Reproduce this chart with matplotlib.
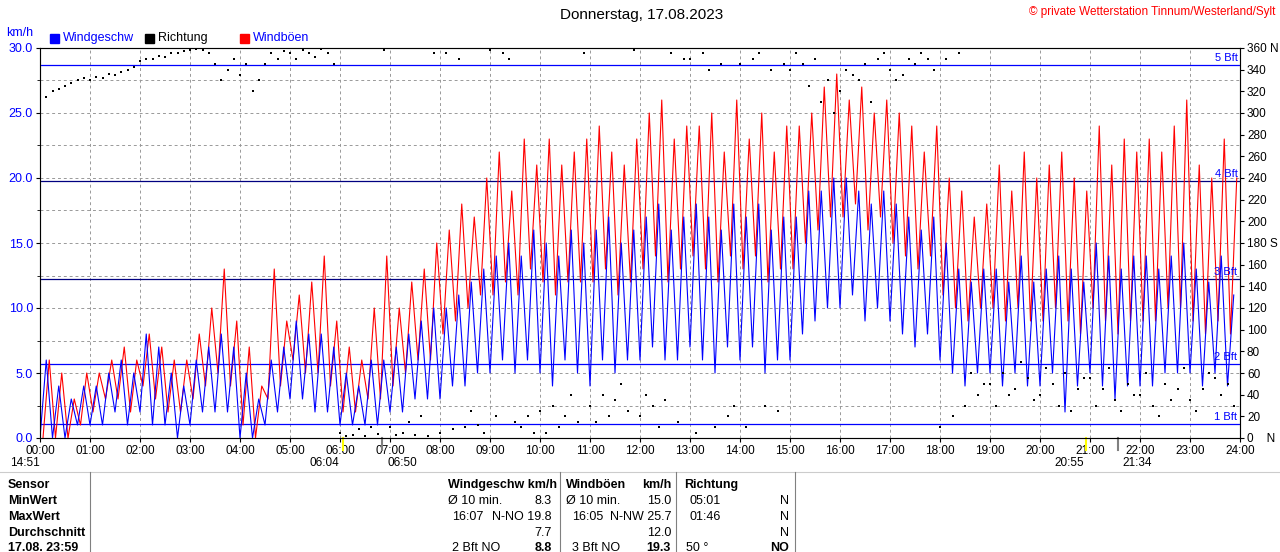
import numpy as np
import matplotlib
matplotlib.use("Agg")
import matplotlib.pyplot as plt

plt.rcParams['font.family'] = ['Liberation Sans Narrow', 'Liberation Sans', 'DejaVu Sans']

# --- DATA (15-min readings: low / high extremes per slot) ---
speed_hi = [6,4,3,4, 4,5,6,5, 8,7,5,4, 6,7,8,7, 5,3,6,7, 9,8,8,7, 5,4,6,6, 7,8,9,10,
            10,11,12,13, 14,15,14,16, 15,14,16,15, 16,17,15,16, 17,18,16,17, 18,17,16,18,
            17,18,16,17, 17,19,19,20, 20,19,18,19, 18,17,16,17, 15,13,12,13, 13,12,14,12,
            13,14,13,12, 15,14,13,14, 14,13,14,15, 13,12,14,11]
speed_lo = [0,0,0,1, 1,1,2,1, 2,1,1,0, 1,2,2,2, 0,0,1,2, 3,3,2,2, 1,1,1,1, 2,2,3,3,
            3,4,4,5, 5,6,5,6, 5,4,6,5, 4,6,5,6, 6,7,6,6, 7,6,5,7, 6,7,5,6, 6,8,9,10,
            10,11,9,10, 9,8,7,8, 6,5,4,5, 5,4,5,4, 4,5,2,4, 5,4,3,4, 4,4,5,5, 5,4,5,4]
gust_hi = [6,5,3,5, 5,6,7,6, 8,7,6,6, 8,10,13,9, 7,4,13,9, 11,12,14,9, 7,6,10,14, 10,12,13,15,
           16,18,17,20, 22,19,23,21, 23,21,22,23, 24,22,21,23, 25,26,23,24, 24,25,22,26,
           23,25,22,24, 24,25,27,28, 26,27,25,26, 25,24,22,24, 20,19,17,18, 21,19,22,20,
           21,22,20,19, 24,21,23,22, 23,22,24,26, 21,20,23,20]
gust_lo = [0,0,0,1, 2,3,3,2, 4,3,2,2, 3,4,5,4, 1,0,3,4, 6,5,5,4, 2,2,3,3, 4,5,6,6,
           8,9,10,11, 11,12,11,13, 12,11,12,12, 12,13,11,12, 13,14,12,13, 14,13,12,14,
           13,14,12,13, 13,15,16,17, 17,18,16,17, 15,14,13,14, 11,10,9,10, 10,9,10,9,
           9,10,9,8, 10,9,8,9, 9,9,10,10, 9,8,9,8]
dir_a = [310,320,325,330, 330,332,335,340, 348,350,352,355, 358,358,345,340, 335,320,345,350,
         355,358,352,355, 5,3,2,4, 10,5,3,2, 5,8,10,12, 358,355,15,20, 25,30,20,15, 30,40,35,25,
         20,30,35,15, 350,355,10,20, 345,350,30,25, 340,345,350,330, 320,335,345,350,
         340,335,345,350, 10,20,30,40, 50,60,45,55, 40,50,60,45, 55,45,35,50, 40,30,50,45, 35,45,55,50]
dir_b = [315,322,328,332, 333,336,338,342, 350,353,355,357, 359,355,330,350, 345,330,355,357,
         350,355,359,345, 2,8,10,358, 3,15,20,355, 355,350,25,5, 20,350,10,5, 5,10,40,355,
         15,20,50,358, 40,10,355,350, 5,340,345,30, 10,355,340,345, 355,325,310,300,
         340,330,310,355, 330,350,355,340, 350,355,60,50, 30,40,70,35, 65,30,25,55,
         30,65,25,40, 60,20,35,65, 25,60,40,30]
bft_levels = [1.1, 5.7, 12.2, 19.8, 28.7]
bft_labels = ["1 Bft", "2 Bft", "3 Bft", "4 Bft", "5 Bft"]
bft_colors = ["#0000ff", "#0000ff", "#000080", "#000080", "#0000ff"]

slot = np.arange(len(speed_hi)) * 0.25
t_lo = slot
t_hi = slot + 0.125
t_all = np.ravel(np.column_stack([t_lo, t_hi]))
speed = np.ravel(np.column_stack([speed_lo, speed_hi]))
gust = np.ravel(np.column_stack([gust_lo, gust_hi]))

fig = plt.figure(figsize=(12.8, 5.52), dpi=100)
ax = fig.add_axes([40/1280, 114/552, 1200/1280, 390/552])
ax.set_xlim(0, 24)
ax.set_ylim(0, 30)

ax.plot(t_all + 0.06, gust, color="#ff0000", lw=0.8, zorder=3)
ax.plot(t_all, speed, color="#0000ff", lw=0.8, zorder=4)

for lvl, lab, c in zip(bft_levels, bft_labels, bft_colors):
    ax.axhline(lvl, color=c, lw=0.9, zorder=2)
    ax.text(23.95, lvl + 0.15, lab, color="#0000ff", fontsize=8, ha="right", va="bottom")

ax.set_xticks(range(25))
ax.set_xticklabels([f"{h:02d}:00" for h in range(25)], fontsize=8.5)
ax.set_yticks(np.arange(0, 30.1, 5))
ax.set_yticklabels([f"{v:.1f}" for v in np.arange(0, 30.1, 5)], fontsize=9, color="#0000ff")
ax.set_yticks(np.arange(0, 30.1, 2.5), minor=True)
ax.grid(True, which="both", color="#999999", ls=(0, (3, 3)), lw=0.7)
ax.tick_params(length=3, pad=2)
for s in ax.spines.values():
    s.set_color("#808080")

ax2 = ax.twinx()
ax2.set_ylim(0, 360)
ax2.scatter(np.concatenate([t_lo, t_hi]), np.concatenate([dir_a, dir_b]),
            s=3, marker="s", color="black", lw=0, zorder=5)
rticks = np.arange(0, 361, 20)
rlabels = [str(v) for v in rticks]
rlabels[0] = "0    N"
rlabels[9] = "180 S"
rlabels[-1] = "360 N"
ax2.set_yticks(rticks)
ax2.set_yticklabels(rlabels, fontsize=8.5)
ax2.tick_params(length=3, pad=2)

fig.text(642/1280, 1 - 15/552, "Donnerstag, 17.08.2023", ha="center", va="center", fontsize=11)
fig.text(1275/1280, 1 - 12/552, "© private Wetterstation Tinnum/Westerland/Sylt", ha="right",
         va="center", fontsize=8.5, color="#ff0000")
fig.text(6/1280, 1 - 33/552, "km/h", color="#0000ff", fontsize=9, va="center")
for x, lab, c, sq in [(50, "Windgeschw", "#0000ff", "#0000ff"), (145, "Richtung", "black", "black"),
                      (240, "Windböen", "#0000ff", "#ff0000")]:
    fig.patches.append(plt.Rectangle((x/1280, 1 - 43/552), 9/1280, 9/552, color=sq,
                                     transform=fig.transFigure, figure=fig))
    fig.text((x + 13)/1280, 1 - 38/552, lab, color=c, fontsize=9, va="center")

# sunrise / sunset marks
for x, lab in [(10, "14:51"), (310, "06:04"), (388, "06:50"), (1054, "20:55"), (1122, "21:34")]:
    fig.text(x/1280, 1 - 463/552, lab, fontsize=8.5, va="center")
for h, c in [(6 + 4/60, "#ffff00"), (20 + 55/60, "#ffff00"), (6 + 50/60, "#808080"), (21 + 34/60, "#808080")]:
    ax.plot([h, h], [0, -0.9], color=c, lw=1.5, clip_on=False)

# table
fig.add_artist(plt.Line2D([0, 1], [1 - 472/552] * 2, color="#cccccc", lw=0.8))
for x in [90, 560, 676, 795]:
    fig.add_artist(plt.Line2D([x/1280] * 2, [0, 1 - 472/552], color="#808080", lw=0.8))
rows = ["Sensor", "MinWert", "MaxWert", "Durchschnitt", "17.08. 23:59"]
ys = [485, 501, 517, 533, 548]
for r, y in zip(rows, ys):
    fig.text(8/1280, 1 - y/552, r, fontsize=9, weight="bold", va="center")
cells = [
    (448, 485, "Windgeschw km/h", "left", True), (566, 485, "Windböen", "left", True),
    (671, 485, "km/h", "right", True), (684, 485, "Richtung", "left", True),
    (448, 501, "Ø 10 min.", "left", False), (552, 501, "8.3", "right", False),
    (566, 501, "Ø 10 min.", "left", False), (671, 501, "15.0", "right", False),
    (690, 501, "05:01", "left", False), (789, 501, "N", "right", False),
    (452, 517, "16:07", "left", False), (552, 517, "N-NO 19.8", "right", False),
    (572, 517, "16:05", "left", False), (671, 517, "N-NW 25.7", "right", False),
    (690, 517, "01:46", "left", False), (789, 517, "N", "right", False),
    (552, 533, "7.7", "right", False), (671, 533, "12.0", "right", False),
    (789, 533, "N", "right", False),
    (452, 548, "2 Bft NO", "left", False), (552, 548, "8.8", "right", True),
    (572, 548, "3 Bft NO", "left", False), (671, 548, "19.3", "right", True),
    (686, 548, "50 °", "left", False), (789, 548, "NO", "right", True),
]
for x, y, s, ha, b in cells:
    fig.text(x/1280, 1 - y/552, s, ha=ha, va="center", fontsize=9,
             weight="bold" if b else "normal")

fig.savefig("out.png", dpi=100)
